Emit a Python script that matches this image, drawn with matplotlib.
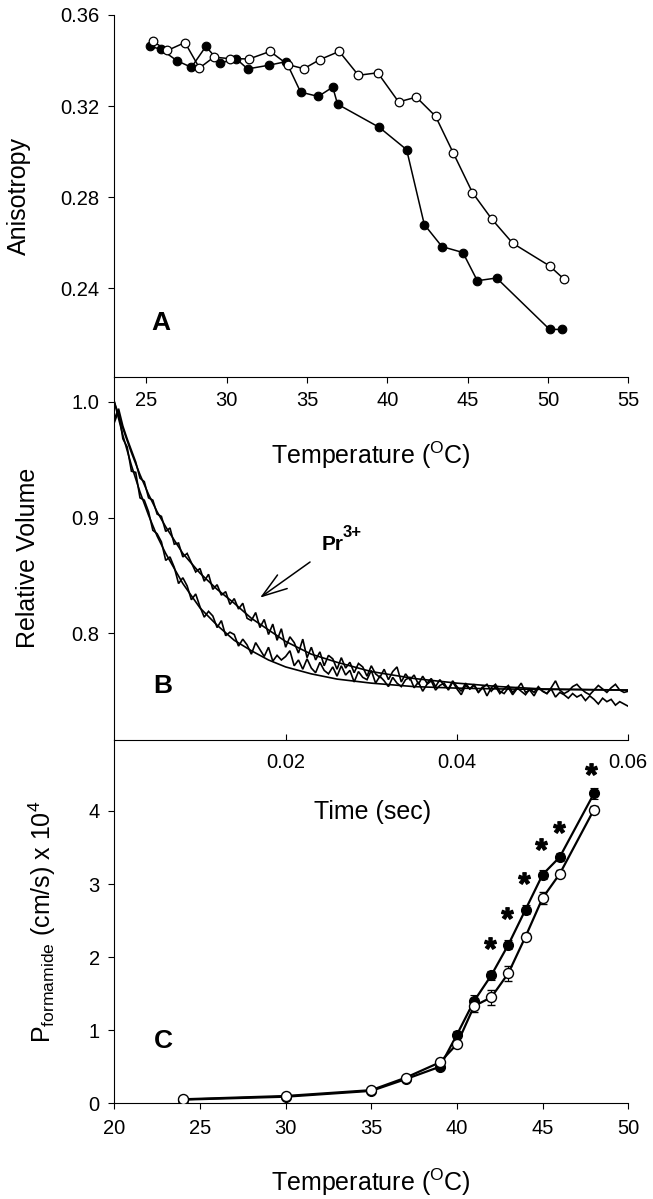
import matplotlib
matplotlib.use("Agg")
import matplotlib.pyplot as plt
import numpy as np

plt.rcParams['font.family'] = ['Liberation Sans', 'DejaVu Sans']
plt.rcParams['mathtext.fontset'] = 'custom'
plt.rcParams['mathtext.rm'] = 'Liberation Sans'
plt.rcParams['mathtext.it'] = 'Liberation Sans:italic'
plt.rcParams['mathtext.bf'] = 'Liberation Sans:bold'

# ---------------- Panel A: anisotropy vs temperature ----------------
a_filled_temp = [25.2, 25.9, 26.9, 27.8, 28.7, 29.6, 30.6, 31.3, 32.6, 33.7, 34.6,
                 35.7, 36.6, 36.9, 39.5, 41.2, 42.3, 43.4, 44.7, 45.6, 46.8, 50.1, 50.9]
a_filled_aniso = [0.3462, 0.3450, 0.3399, 0.3370, 0.3462, 0.3389, 0.3407, 0.3363, 0.3379,
                  0.3395, 0.3261, 0.3242, 0.3283, 0.3208, 0.3106, 0.3008, 0.2679, 0.2582,
                  0.2556, 0.2432, 0.2444, 0.2218, 0.2218]
a_open_temp = [25.4, 26.3, 27.4, 28.3, 29.2, 30.2, 31.4, 32.7, 33.8, 34.8, 35.8, 37.0,
               38.2, 39.4, 40.7, 41.8, 43.0, 44.1, 45.3, 46.5, 47.8, 50.1, 51.0]
a_open_aniso = [0.3484, 0.3444, 0.3479, 0.3367, 0.3415, 0.3408, 0.3407, 0.3440, 0.3382,
                0.3364, 0.3404, 0.3440, 0.3335, 0.3346, 0.3218, 0.3239, 0.3155, 0.2994,
                0.2819, 0.2703, 0.2597, 0.2497, 0.2439]
a_xticks = [25, 30, 35, 40, 45, 50, 55]
a_yticks = [0.24, 0.28, 0.32, 0.36]
a_yticklabels = ['0.24', '0.28', '0.32', '0.36']

# ---------------- Panel B: relative volume vs time ----------------
b_sample_step = 0.0005
b_trace_ctrl = [
    0.982, 0.992, 0.968, 0.961, 0.940, 0.939, 0.917, 0.915, 0.905, 0.889,
    0.886, 0.879, 0.863, 0.866, 0.857, 0.843, 0.848, 0.841, 0.829, 0.834,
    0.823, 0.814, 0.819, 0.815, 0.805, 0.811, 0.798, 0.801, 0.799, 0.789,
    0.795, 0.790, 0.782, 0.792, 0.786, 0.780, 0.788, 0.776, 0.781, 0.777,
    0.780, 0.785, 0.772, 0.777, 0.769, 0.778, 0.770, 0.766, 0.775, 0.768,
    0.765, 0.771, 0.763, 0.772, 0.764, 0.768, 0.758, 0.767, 0.762, 0.760,
    0.768, 0.757, 0.763, 0.759, 0.754, 0.762, 0.757, 0.754, 0.760, 0.762,
    0.753, 0.758, 0.750, 0.756, 0.759, 0.751, 0.755, 0.757, 0.751, 0.758,
    0.752, 0.747, 0.755, 0.752, 0.756, 0.749, 0.754, 0.746, 0.753, 0.756,
    0.750, 0.748, 0.753, 0.747, 0.752, 0.757, 0.749, 0.751, 0.746, 0.753,
    0.750, 0.748, 0.752, 0.745, 0.749, 0.747, 0.744, 0.748, 0.745, 0.747,
    0.742, 0.746, 0.743, 0.739, 0.744, 0.741, 0.743, 0.738, 0.741, 0.739,
    0.737]
b_trace_pr = [
    0.985, 0.994, 0.979, 0.968, 0.958, 0.948, 0.934, 0.931, 0.917, 0.915,
    0.903, 0.901, 0.888, 0.891, 0.877, 0.878, 0.866, 0.869, 0.861, 0.853,
    0.856, 0.845, 0.851, 0.838, 0.842, 0.833, 0.836, 0.825, 0.830, 0.821,
    0.826, 0.813, 0.811, 0.818, 0.805, 0.812, 0.799, 0.808, 0.794, 0.804,
    0.788, 0.797, 0.792, 0.783, 0.795, 0.779, 0.788, 0.777, 0.784, 0.772,
    0.781, 0.778, 0.769, 0.779, 0.770, 0.775, 0.766, 0.774, 0.771, 0.763,
    0.772, 0.765, 0.762, 0.769, 0.760, 0.767, 0.771, 0.758, 0.765, 0.760,
    0.764, 0.756, 0.763, 0.757, 0.761, 0.754, 0.760, 0.755, 0.752, 0.759,
    0.754, 0.750, 0.757, 0.752, 0.755, 0.749, 0.753, 0.756, 0.750, 0.754,
    0.748, 0.752, 0.755, 0.749, 0.753, 0.750, 0.747, 0.752, 0.749, 0.754,
    0.750, 0.748, 0.753, 0.759, 0.751, 0.748, 0.750, 0.754, 0.756, 0.752,
    0.749, 0.747, 0.751, 0.755, 0.752, 0.749, 0.753, 0.756, 0.751, 0.749,
    0.750]
b_fit_time = [0.0, 0.001, 0.002, 0.003, 0.004, 0.005, 0.006, 0.008, 0.010, 0.012,
              0.014, 0.016, 0.018, 0.020, 0.023, 0.026, 0.030, 0.035, 0.040, 0.045,
              0.050, 0.055, 0.060]
b_fit_ctrl = [1.000, 0.971, 0.945, 0.922, 0.902, 0.884, 0.869, 0.843, 0.822, 0.807,
              0.794, 0.785, 0.777, 0.771, 0.765, 0.7605, 0.757, 0.754, 0.7527, 0.752,
              0.7516, 0.7513, 0.751]
b_fit_pr = [1.000, 0.977, 0.956, 0.937, 0.920, 0.905, 0.892, 0.869, 0.852, 0.838,
            0.826, 0.813, 0.803, 0.793, 0.782, 0.775, 0.767, 0.761, 0.757, 0.754,
            0.752, 0.7515, 0.751]
b_xticks = [0.02, 0.04, 0.06]
b_xticklabels = ['0.02', '0.04', '0.06']
b_yticks = [0.8, 0.9, 1.0]
b_yticklabels = ['0.8', '0.9', '1.0']

# ---------------- Panel C: formamide permeability ----------------
c_temp = [24, 30, 35, 37, 39, 40, 41, 42, 43, 44, 45, 46, 48]
c_filled = [0.05, 0.09, 0.17, 0.33, 0.50, 0.94, 1.40, 1.75, 2.17, 2.65, 3.13, 3.37, 4.24]
c_filled_err = [0.02, 0.02, 0.03, 0.03, 0.04, 0.05, 0.08, 0.06, 0.06, 0.06, 0.06, 0.05, 0.07]
c_open = [0.055, 0.10, 0.18, 0.35, 0.56, 0.81, 1.33, 1.45, 1.78, 2.28, 2.81, 3.14, 4.02]
c_open_err = [0.02, 0.02, 0.03, 0.03, 0.04, 0.04, 0.08, 0.10, 0.10, 0.05, 0.08, 0.05, 0.05]
c_star_temp = [41.9, 42.9, 43.9, 44.9, 45.95, 47.85]
c_star_level = [2.19, 2.60, 3.08, 3.55, 3.78, 4.58]
c_xticks = [20, 25, 30, 35, 40, 45, 50]
c_yticks = [0, 1, 2, 3, 4]

# ---------------- layout ----------------
W, H = 653, 1199
fig = plt.figure(figsize=(W / 100, H / 100), dpi=100)


def rect(x0, y0, x1, y1):
    return [x0 / W, 1 - y1 / H, (x1 - x0) / W, (y1 - y0) / H]


def fxy(x, y):
    return x / W, 1 - y / H


L, R = 114.3, 628.3
axA = fig.add_axes(rect(L, 15, R, 376.5))
axB = fig.add_axes(rect(L, 376.5, R, 740))
axC = fig.add_axes(rect(L, 740, R, 1103.3))

TICK_FS = 14.5
LAB_FS = 18
for ax in (axA, axB, axC):
    ax.set_facecolor('none')
    for s in ('top', 'right'):
        ax.spines[s].set_visible(False)
    for s in ('left', 'bottom'):
        ax.spines[s].set_linewidth(0.8)
    ax.tick_params(axis='both', labelsize=TICK_FS, width=0.8, length=4.5, color='black')
    ax.tick_params(axis='y', pad=6)

# Panel A
axA.plot(a_filled_temp, a_filled_aniso, '-o', color='black', lw=1.1, ms=6.2,
         mfc='black', mec='black', mew=0.8, zorder=3)
axA.plot(a_open_temp, a_open_aniso, '-o', color='black', lw=1.1, ms=6.2,
         mfc='white', mec='black', mew=0.9, zorder=4)
axA.set_xlim(23, 55)
axA.set_ylim(0.2011, 0.36)
axA.set_xticks(a_xticks)
axA.set_yticks(a_yticks)
axA.set_yticklabels(a_yticklabels)
axA.tick_params(axis='x', direction='out', pad=6)
axA.text(0.073, 0.128, 'A', transform=axA.transAxes, fontsize=19, fontweight='bold',
         ha='left', va='baseline')

# Panel B
b_time_ctrl = np.arange(len(b_trace_ctrl)) * b_sample_step
b_time_pr = np.arange(len(b_trace_pr)) * b_sample_step
axB.plot(b_time_ctrl, b_trace_ctrl, color='black', lw=1.2, solid_joinstyle='miter')
axB.plot(b_time_pr, b_trace_pr, color='black', lw=1.2, solid_joinstyle='miter')
axB.plot(b_fit_time, b_fit_ctrl, color='black', lw=1.2)
axB.plot(b_fit_time, b_fit_pr, color='black', lw=1.2)
axB.set_xlim(0, 0.06)
axB.set_ylim(0.7079, 1.0218)
axB.set_xticks(b_xticks)
axB.set_xticklabels(b_xticklabels)
axB.set_yticks(b_yticks)
axB.set_yticklabels(b_yticklabels)
axB.tick_params(axis='x', direction='in', pad=9)
axB.text(0.076, 0.1285, 'B', transform=axB.transAxes, fontsize=19, fontweight='bold',
         ha='left', va='baseline')
axB.annotate('', xy=(0.01701, 0.8308), xytext=(0.02285, 0.8616),
             arrowprops=dict(arrowstyle='->,head_length=0.9,head_width=0.3',
                             mutation_scale=20, lw=1.1, color='black',
                             shrinkA=0, shrinkB=0))
axB.text(0.02421, 0.8717, 'Pr', fontsize=15, fontweight='bold', ha='left', va='baseline')
axB.text(0.02662, 0.8835, '3+', fontsize=12, fontweight='bold', ha='left', va='baseline')

# Panel C
axC.errorbar(c_temp, c_filled, yerr=c_filled_err, fmt='-o', color='black', lw=1.6,
             ms=7.2, mfc='black', mec='black', mew=0.8, elinewidth=0.8, capsize=3,
             capthick=0.8, zorder=3)
axC.errorbar(c_temp, c_open, yerr=c_open_err, fmt='-o', color='black', lw=1.6,
             ms=7.2, mfc='white', mec='black', mew=1.0, elinewidth=0.8, capsize=3,
             capthick=0.8, zorder=4)
axC.plot(c_star_temp, c_star_level, linestyle='none', marker='$\\mathbf{*}$',
         ms=8.5, color='black', zorder=5)
axC.set_xlim(20, 50)
axC.set_ylim(0, 4.971)
axC.set_xticks(c_xticks)
axC.set_yticks(c_yticks)
axC.tick_params(axis='x', direction='out', pad=7)
axC.text(0.077, 0.151, 'C', transform=axC.transAxes, fontsize=19, fontweight='bold',
         ha='left', va='baseline')

# axis titles
fig.text(*fxy(18.5, 196), 'Anisotropy', rotation=90, ha='center', va='center', fontsize=LAB_FS)
fig.text(*fxy(28, 558), 'Relative Volume', rotation=90, ha='center', va='center', fontsize=LAB_FS)
fig.text(*fxy(42, 922), 'P$_{\\mathrm{formamide}}$ (cm/s) x 10$^{\\mathrm{4}}$', rotation=90,
         ha='center', va='center', fontsize=LAB_FS)
fig.text(*fxy(371, 455), 'Temperature ($^{\\mathrm{O}}$C)', ha='center', va='center', fontsize=LAB_FS)
fig.text(*fxy(373, 812), 'Time (sec)', ha='center', va='center', fontsize=LAB_FS)
fig.text(*fxy(371, 1182), 'Temperature ($^{\\mathrm{O}}$C)', ha='center', va='center', fontsize=LAB_FS)

fig.savefig('out.png', dpi=100)
